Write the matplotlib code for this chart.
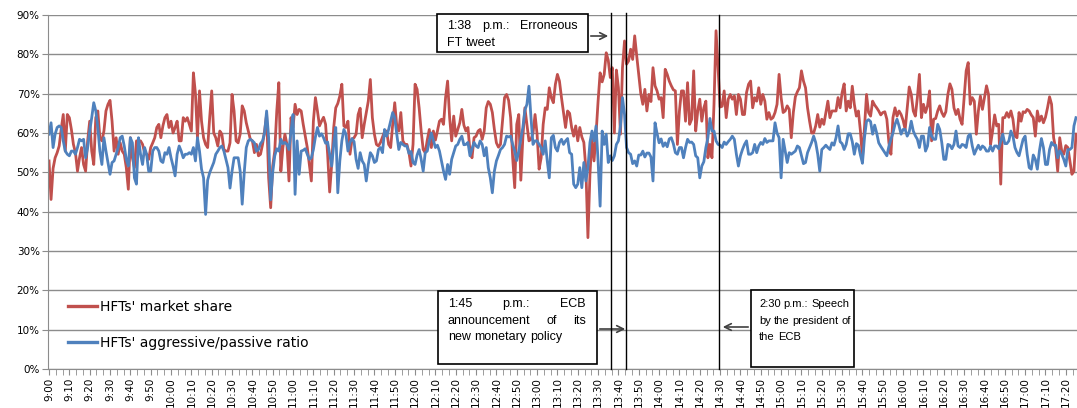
import numpy as np
import matplotlib.pyplot as plt
from matplotlib.patches import Rectangle
from matplotlib.lines import Line2D

W, H = 1077, 408

# one value per minute from 9:00 to 17:25 (in %)
market_share = [
    52.9, 43.1, 51, 53.7, 55, 56.7, 61, 64.7, 55.4, 64.7,
    63.9, 60.9, 57.1, 55, 50.3, 53.7, 56.3, 52, 50.3, 58,
    63, 55.4, 52, 63.9, 65.6, 58.8, 58, 60.5, 65.6, 67.3,
    68.3, 63, 55.4, 58.8, 54.6, 57.5, 55.4, 54.6, 51.2, 45.7,
    58.8, 53.7, 51.2, 58, 58, 58, 57.1, 55, 54.6, 53.3,
    56.3, 57.5, 58.8, 61.4, 62.2, 58.8, 61.8, 63.9, 64.7, 61.4,
    63, 60, 61.4, 63, 58, 58, 63.9, 63, 63.9, 62.2,
    60.5, 75.3, 70, 58.8, 70.7, 63, 58.8, 57.1, 56.3, 63.9,
    70.7, 60, 58.8, 56.7, 60.5, 59.7, 55.8, 55.4, 55.4, 57.5,
    69.8, 65.6, 58, 57.5, 59.7, 66.9, 65.6, 62.6, 60.5, 58.4,
    58, 55, 57.1, 54.2, 54.6, 57.1, 60.5, 64.7, 48.6, 41,
    51.6, 55.4, 65.6, 72.8, 50.3, 56.3, 59.7, 57.1, 47.8, 63.9,
    61.4, 67.3, 64.7, 66, 65.6, 62.2, 59.2, 56.3, 52, 47.8,
    63, 69, 65.6, 61.8, 63, 64, 62.2, 54.6, 45, 52,
    61.4, 66.4, 67.5, 69.4, 72.4, 61.8, 61.4, 63, 54.6, 58.4,
    58.8, 59.7, 64.7, 66.3, 58.8, 62.2, 65.2, 68.1, 73.6, 63.9,
    59.7, 57.1, 56.7, 57.6, 59, 60.3, 60.5, 57.1, 56.3, 62.2,
    67.7, 61.8, 60.5, 65.2, 58, 57.1, 57.1, 55, 51.6, 57.1,
    72.4, 71.1, 66.4, 60.5, 55.8, 55, 58.2, 60.9, 56.3, 60.5,
    58.2, 60.5, 63, 63.5, 62.2, 69, 73.2, 63.9, 58, 64.3,
    59.2, 60.9, 62.6, 66, 62, 60.5, 61.4, 55.4, 53.7, 58.8,
    59.2, 60.5, 60.9, 58.4, 60.5, 66.4, 68, 67.3, 65.2, 60.9,
    57.5, 56.4, 57.1, 63, 69, 69.8, 68.3, 63.9, 53.7, 46.1,
    62.2, 64.7, 48, 58.8, 66.4, 62.2, 58, 58.4, 60, 64.7,
    59.7, 50.8, 53.7, 62.2, 66.4, 66, 71.5, 69, 67.7, 72.4,
    74.9, 73.2, 69, 65.2, 61.4, 65.6, 65, 61.4, 59.2, 61.8,
    58, 61.4, 59, 57.6, 50.8, 33.4, 49.5, 58.8, 52.9, 59.7,
    68.1, 75.3, 73, 74.9, 80.4, 78.5, 74.1, 76.6, 60, 76,
    71.5, 59.7, 76.6, 83.4, 77.5, 78.3, 81.3, 78.7, 84.7, 79.6,
    74.9, 70, 67.3, 71.1, 65.6, 69.8, 68, 76.6, 72, 70.7,
    68.6, 69, 63.9, 76.2, 74.9, 73.2, 72, 71, 70.7, 57.1,
    65.6, 70.7, 70.7, 63, 72.8, 62.2, 63.5, 75.8, 60.5, 65.6,
    68.6, 63, 66.4, 68.1, 53.7, 57.1, 53.7, 67.3, 86, 76.6,
    66.6, 66.8, 70.7, 63.9, 68.6, 69.8, 68.6, 69.4, 64.7, 69.8,
    68.6, 64.7, 64.7, 70.3, 72.4, 73.2, 66.4, 69, 68.1, 71.5,
    67.3, 69.8, 68.1, 63.5, 65.2, 63.5, 63.9, 65.2, 67.3, 74.9,
    69, 65.2, 65.6, 66.9, 66, 58.8, 65.2, 69.2, 70.5, 71.5,
    75.8, 73.2, 71.5, 66.4, 63, 60, 60, 61.8, 64.7, 61.5,
    63.5, 62.2, 65.2, 68.1, 63.9, 65.6, 65.6, 65.6, 69, 66.4,
    70.3, 72.5, 65.6, 68.1, 66.4, 71.9, 67.3, 64.3, 65.6, 60.5,
    53.7, 61.4, 69.8, 65.2, 64.3, 68.1, 67.1, 66.4, 65.6, 64.6,
    65.2, 65.4, 63.5, 57.5, 54.6, 63.9, 66.4, 64.3, 65.6, 64.7,
    63.2, 60.9, 66.4, 71.7, 69.8, 65.6, 64.3, 69, 74.9, 63.9,
    67.3, 65.2, 66.9, 70.7, 58, 63.5, 63.7, 65.6, 66.9, 65.2,
    64.2, 65.4, 69.8, 72.5, 71.1, 66.4, 64.7, 66, 63.5, 62.2,
    69, 75.8, 77.9, 67.3, 69, 68.1, 59.7, 65.6, 69.4, 66,
    69, 72, 69.8, 57.1, 60.5, 64.6, 61.8, 62.2, 47, 63.9,
    63.9, 65.2, 64, 65.6, 63.5, 59.2, 58.8, 65.2, 63, 65.4,
    65.2, 66, 65.6, 64.6, 63.9, 59.2, 65.6, 63, 64.3, 62.6,
    64, 66.4, 69.2, 67.3, 58.8, 56.1, 50.3, 58.8, 55.4, 54.6,
    56.8, 56.3, 52.9, 49.5, 50.3, 59.7,
]
aggr_passive = [
    59.7, 62.6, 56.3, 59.7, 61.4, 61.8, 61.4, 58, 55.4, 54.6,
    54.2, 55.4, 55.4, 54.6, 56.3, 58.4, 58, 58.4, 53.7, 56.3,
    60.5, 63.9, 67.7, 65.6, 61.4, 55.4, 52, 58.8, 55.4, 52.5,
    49.5, 52.5, 52.9, 54.6, 56.3, 58.8, 59.2, 56.7, 53.3, 51.6,
    58.8, 57.5, 48.6, 47, 58.8, 54.6, 52, 56.3, 54.6, 50.3,
    50.3, 55.4, 56.3, 56.3, 55.4, 52.9, 52.5, 55, 54.6, 56.3,
    53.7, 51.6, 49.1, 54.6, 56.7, 55.4, 53.7, 54.6, 54.6, 55,
    54.6, 56.3, 52.9, 58.8, 55.4, 50.8, 48.6, 39.3, 48, 49.9,
    51.2, 52.5, 54.6, 55.4, 56.3, 56.7, 55.4, 53.3, 51.2, 46,
    50.3, 53.7, 53.7, 53.7, 50.3, 41.9, 50, 56.3, 58, 58.4,
    58, 57.5, 55.4, 55.8, 57.3, 58, 60, 65.6, 58.8, 43,
    50, 54.2, 56, 55.4, 58.4, 57.3, 57.6, 57.1, 55.8, 60.5,
    64.7, 44.4, 58, 49.5, 55.4, 55.6, 56, 54.6, 53.3, 53.7,
    55.8, 59, 61.4, 59.2, 59.8, 58.8, 57.4, 57.7, 54.6, 51.6,
    57.1, 61.4, 44.8, 52.9, 58, 60.9, 59.7, 55.4, 57.6, 58.6,
    57.8, 53.3, 51, 55, 52.9, 52, 47.8, 52, 55, 54.2,
    52.5, 52.9, 55.8, 56.3, 55, 60.9, 59.2, 60.9, 63, 65.2,
    63.9, 59.7, 55.8, 57.6, 57.1, 56.7, 56.7, 54.8, 55.3, 52.5,
    52, 54.4, 55.8, 53.3, 50.3, 55, 55.4, 58, 60, 58.2,
    56.3, 56.9, 55.4, 52.9, 50.3, 48.2, 52, 49.5, 53.3, 55,
    56.7, 57.1, 58.4, 59.2, 57, 57.1, 57.6, 54.2, 56, 57.6,
    56.7, 56.3, 58, 57.1, 54.2, 56.3, 51.2, 48.6, 44.8, 50.3,
    52.9, 54.3, 55.8, 56.3, 57.1, 59.2, 59, 59.2, 57.1, 55.4,
    53, 55.4, 58.4, 61.4, 65.8, 67.3, 71.9, 63.9, 57.1, 58,
    58, 57.1, 56.3, 54.6, 58, 52.9, 48.6, 58.8, 59.4, 56.3,
    55.4, 57.6, 58.4, 57.1, 58, 58.6, 55, 54.6, 47, 46.1,
    47, 51.2, 46.1, 52.5, 47.8, 51.2, 57.6, 60.5, 58, 61.8,
    52.9, 41.4, 60.5, 57.1, 59.7, 52.5, 54.2, 53, 54.2, 57.1,
    58, 61.8, 69, 64.7, 56.3, 55, 54.6, 52.2, 52.9, 51.6,
    54.4, 54.4, 55.4, 53.9, 54.9, 54.9, 53.9, 47.8, 62.6, 59.9,
    57.5, 58.5, 56.6, 57.5, 56.5, 58.5, 58.8, 57.3, 55, 54.6,
    56.3, 56.3, 53.7, 56.3, 58.4, 57.6, 57.7, 57.1, 54.2, 53.7,
    48.6, 51.6, 52.7, 56.3, 58.8, 63.7, 60.5, 60.5, 58, 57.1,
    56.9, 56.3, 57.7, 57.1, 57.8, 58.4, 59.2, 58.4, 54.6, 51.6,
    54.2, 55.8, 57.1, 58, 54.6, 54.6, 55, 57.1, 55, 56.7,
    57.6, 57.1, 58.6, 57.6, 58, 58, 58, 62.6, 60, 58.8,
    48.6, 58.4, 55.4, 52.5, 55, 54.6, 55, 55.4, 56.7, 56.3,
    54.2, 52.2, 52.5, 55, 56.3, 57.6, 59.2, 57.6, 54.6, 50.3,
    55.8, 56.3, 56.9, 56.3, 55.8, 57.5, 56.9, 58.8, 61.8, 57.8,
    57.3, 55.8, 57.1, 59.8, 59.8, 57.8, 54.6, 57.3, 56.9, 54.4,
    52.3, 58.8, 63, 63.4, 62.9, 59.7, 62, 60, 57.5, 56.6,
    55.8, 55, 54.2, 56.6, 58.4, 60, 62.2, 63.5, 61.8, 59.7,
    60.9, 60.9, 59.2, 60.3, 63, 60.5, 59.3, 58.4, 56.3, 59.2,
    59.2, 55.4, 56.7, 61.4, 59.2, 58.4, 58.4, 62.2, 60.9, 57.6,
    53.3, 53.3, 57.1, 56.9, 56, 57.1, 60.5, 56.7, 56.3, 57.1,
    56.9, 56.3, 59.2, 59.7, 56.7, 54.6, 55.8, 56.9, 55.8, 56.7,
    56.3, 55.4, 55.4, 56.7, 55.4, 56.7, 56.7, 56, 57.8, 59.7,
    57.3, 57.3, 58, 60.5, 59.2, 56.3, 55, 54.2, 56.3, 58.4,
    59.2, 54.6, 51.2, 50.8, 54.4, 53.3, 50.8, 55.4, 58.6, 56.3,
    52, 52, 55.8, 57.6, 56.9, 56.9, 53.7, 55.5, 54.6, 53.3,
    51.6, 55.8, 55.8, 56.3, 61.8, 63.9,
]
minutes_ms = np.arange(len(market_share))
minutes_ap = np.arange(len(aggr_passive))

tick_pos = list(range(0, 501, 10))
tick_labels = ["%d:%02d" % (9 + p // 60, p % 60) for p in tick_pos]
y_ticks = list(range(0, 91, 10))
event_pos = [276.5, 283.5, 329.3]

RED = '#C0504D'
BLUE = '#4F81BD'

fig = plt.figure(figsize=(W / 100, H / 100), dpi=100)
ax = fig.add_axes([48 / W, 1 - 369 / H, 1 - 48 / W, (369 - 15) / H])

ax.plot(minutes_ms, market_share, color=RED, lw=2.0, label="HFTs' market share")
ax.plot(minutes_ap, aggr_passive, color=BLUE, lw=2.0, label="HFTs' aggressive/passive ratio")

ax.set_xlim(-0.5, 505.5)
ax.set_ylim(0, 90)
ax.set_yticks(y_ticks)
ax.set_yticklabels(["%d%%" % v for v in y_ticks], fontsize=7.5)
ax.set_xticks(tick_pos)
ax.set_xticklabels(tick_labels, rotation=90, fontsize=7.5)
ax.set_xticks(np.arange(0, 506, 10 / 3), minor=True)
ax.tick_params(axis='x', which='both', length=4, color='#8c8c8c', pad=2)
ax.tick_params(axis='y', length=4, color='#8c8c8c', pad=2)

ax.yaxis.grid(True, color='#8c8c8c', lw=1)
ax.set_axisbelow(True)
for s in ['top', 'right']:
    ax.spines[s].set_visible(False)
for s in ['left', 'bottom']:
    ax.spines[s].set_color('#8c8c8c')

for i, x in enumerate(event_pos):
    ax.axvline(x, ymin=0, ymax=1.006 if i < 2 else 1.0, color='black', lw=1, clip_on=False, zorder=5)

leg = ax.legend(loc='upper left', bbox_to_anchor=(68 / W, 1 - 300 / H), bbox_transform=fig.transFigure,
                frameon=False, fontsize=10, handlelength=2.1, handletextpad=0.2, labelspacing=1.55,
                borderpad=0, borderaxespad=0)
for h in leg.legend_handles:
    h.set_linewidth(2.4)


def px(x, y):
    return (x / W, 1 - y / H)


renderer = fig.canvas.get_renderer()


def text_line(words, x0, x1, y, size=9, justify=True, underline=0):
    texts = [fig.text(0, 0, w, fontsize=size, family='Liberation Sans', va='center', ha='left', zorder=10)
             for w in words]
    widths = [t.get_window_extent(renderer).width for t in texts]
    space = size * 100 / 72 * 0.278
    if justify and len(words) > 1:
        gap = max(space, (x1 - x0 - sum(widths)) / (len(words) - 1))
    else:
        gap = space
    x = x0
    ends = []
    for t, w in zip(texts, widths):
        t.set_position(px(x, y))
        x += w
        ends.append(x)
        x += gap
    if underline:
        xe = ends[underline - 1]
        fig.add_artist(Line2D([x0 / W, xe / W], [1 - (y + 7) / H] * 2, color='black', lw=0.8))


def box(x0, y0, x1, y1):
    fig.add_artist(Rectangle(px(x0, y1), (x1 - x0) / W, (y1 - y0) / H, transform=fig.transFigure,
                             facecolor='white', edgecolor='black', lw=1.2, zorder=9))


def arrow(xs, xe, y):
    ax.annotate('', xy=px(xe, y), xytext=px(xs, y), xycoords='figure fraction',
                textcoords='figure fraction',
                arrowprops=dict(arrowstyle='->', color='#404040', lw=1.2, mutation_scale=12))


# 1:38 box
box(437, 14, 588, 52)
text_line(['1:38', 'p.m.:', 'Erroneous'], 447, 578, 26, underline=2)
text_line(['FT', 'tweet'], 447, 578, 43, justify=False)
arrow(588, 611, 36)

# 1:45 box
box(438, 291, 597, 364)
text_line(['1:45', 'p.m.:', 'ECB'], 448, 586, 304, underline=2)
text_line(['announcement', 'of', 'its'], 448, 586, 321)
text_line(['new', 'monetary', 'policy'], 448, 586, 337, justify=False)
arrow(597, 628, 329)

# 2:30 box
box(751, 290, 854, 367)
text_line(['2:30', 'p.m.:', 'Speech'], 759, 848, 304, size=8, underline=2)
text_line(['by', 'the', 'president', 'of'], 759, 848, 321, size=8)
text_line(['the', 'ECB'], 759, 848, 337, size=8, justify=False)
arrow(751, 720, 327)

fig.savefig('out.png', dpi=100)
